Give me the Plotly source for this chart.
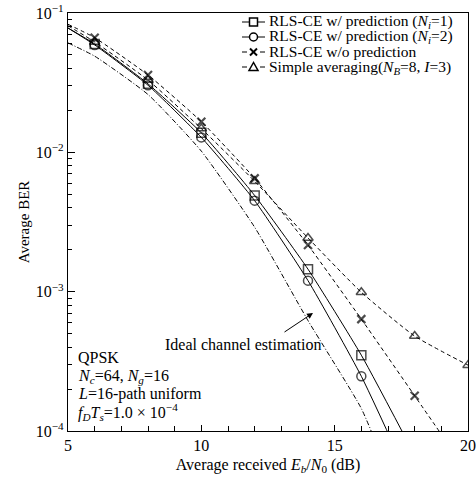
import plotly.graph_objects as go

# ---- data ----
snr = [5, 6, 8, 10, 12, 14, 16, 18, 20]
ber_ni1 = [0.078, 0.060, 0.031, 0.0138, 0.0049, 0.00145, 0.00035, 6.7e-5, None]
ber_ni2 = [0.078, 0.059, 0.0303, 0.0128, 0.0045, 0.0012, 0.000247, 3.7e-5, None]
ber_wo = [0.083, 0.0665, 0.0359, 0.0166, 0.0065, 0.00216, 0.000635, 0.000179, 5.0e-5]
ber_avg = [0.081, 0.062, 0.033, 0.0148, 0.0062, 0.00243, 0.00099, 0.00048, 0.000297]

snr_ideal = [5, 6, 8, 10, 12, 14, 16, 17]
ber_ideal = [0.061, 0.049, 0.026, 0.0102, 0.0029, 0.00062, 0.000145, 5.0e-5]

names = [
    "RLS-CE w/ prediction (<i>N<sub>i</sub></i>=1)",
    "RLS-CE w/ prediction (<i>N<sub>i</sub></i>=2)",
    "RLS-CE w/o prediction",
    "Simple averaging(<i>N<sub>B</sub></i>=8, <i>I</i>=3)",
]
info_lines = [
    "QPSK",
    "<i>N<sub>c</sub></i>=64, <i>N<sub>g</sub></i>=16",
    "<i>L</i>=16-path uniform",
    "<i>f<sub>D</sub>T<sub>s</sub></i>=1.0 × 10<sup>−4</sup>",
]

y_tickvals = [1e-4, 1e-3, 1e-2, 1e-1]
y_ticktext = ["10<sup>−4</sup>", "10<sup>−3</sup>", "10<sup>−2</sup>", "10<sup>−1</sup>"]
x_tickvals = [5, 10, 15, 20]

FONT = "Liberation Serif, Times New Roman, serif"
MS = 9

# figure geometry (pixels)
W, H = 476, 479
ML, MR, MT, MB = 68, 8, 13, 48
PW, PH = W - ML - MR, H - MT - MB


def px(xp):
    return (xp - ML) / PW


def py(yp):
    return (H - MB - yp) / PH


def sizes(n, s=MS):
    return [0] + [s] * (n - 1)


fig = go.Figure()

series = [
    (ber_ni1, "square-open", "solid", names[0], MS, 1.5),
    (ber_ni2, "circle-open", "solid", names[1], MS, 1.5),
    (ber_wo, "x-thin-open", "4px,3px", names[2], 8, 2.2),
    (ber_avg, "triangle-up-open", "4px,3px", names[3], MS, 1.5),
]
for ys, sym, dash, nm, ms, mw in series:
    fig.add_trace(go.Scatter(
        x=snr, y=ys, name=nm, mode="lines+markers", showlegend=False,
        line=dict(color="black", width=1, dash=dash, shape="spline", smoothing=0.5),
        marker=dict(symbol=sym, size=sizes(len(snr), ms), color="black",
                    line=dict(color="black", width=mw)),
        connectgaps=False,
    ))

fig.add_trace(go.Scatter(
    x=snr_ideal, y=ber_ideal, mode="lines", showlegend=False, name="Ideal channel estimation",
    line=dict(color="black", width=1, dash="5px,2px,1px,2px", shape="spline", smoothing=0.5),
))

minor_vals = [k * 10.0 ** e for e in (-4, -3, -2) for k in range(2, 10)]

fig.update_xaxes(
    range=[5, 20], tickvals=x_tickvals, ticks="inside", ticklen=6, tickwidth=1,
    tickcolor="black", showline=True, linecolor="black", linewidth=1.2, mirror=True,
    showgrid=False, zeroline=False, automargin=False,
    minor=dict(tickvals=list(range(5, 21)), ticks="inside", ticklen=5, tickcolor="black", showgrid=False),
    tickfont=dict(family=FONT, size=16, color="black"),
    title=dict(text="Average received <i>E<sub>b</sub></i>/<i>N</i><sub>0</sub> (dB)",
               font=dict(family=FONT, size=16, color="black"), standoff=5),
)
fig.update_yaxes(
    type="log", range=[-4, -1], tickmode="array", tickvals=y_tickvals, ticktext=y_ticktext,
    ticks="inside", ticklen=7, tickwidth=1, tickcolor="black",
    showline=True, linecolor="black", linewidth=1.2, mirror=True,
    showgrid=False, zeroline=False, automargin=False,
    minor=dict(tickvals=minor_vals, ticks="inside", ticklen=4, tickcolor="black", showgrid=False),
    tickfont=dict(family=FONT, size=16, color="black"),
    title=dict(text="Average BER", font=dict(family=FONT, size=15, color="black"), standoff=2),
)

# ---- info block (bottom-left) ----
for txt, yc in zip(info_lines, [357, 376, 394, 412]):
    fig.add_annotation(xref="paper", yref="paper", x=px(76), y=py(yc),
                       xanchor="left", yanchor="middle", showarrow=False, text=txt,
                       font=dict(family=FONT, size=16, color="black"))

# ---- ideal channel estimation label with arrow ----
fig.add_annotation(
    xref="paper", yref="paper", x=px(313), y=py(313), axref="pixel", ayref="pixel",
    ax=-30, ay=20, text="", showarrow=True, arrowhead=2, arrowsize=1.2,
    arrowwidth=1, arrowcolor="black",
)
fig.add_annotation(
    xref="paper", yref="paper", x=px(243), y=py(344), text="Ideal channel estimation",
    showarrow=False, xanchor="center", yanchor="middle",
    font=dict(family=FONT, size=16, color="black"),
)

# ---- legend (key drawn at top right) ----
rows = [22, 37, 52, 67]
kx0, kx1, kxm, ktext = 242, 265, 253.5, 268
shapes = []
for i, (nm, yc) in enumerate(zip(names, rows)):
    fig.add_annotation(xref="paper", yref="paper", x=px(ktext), y=py(yc),
                       xanchor="left", yanchor="middle", showarrow=False, text=nm,
                       borderpad=0, font=dict(family=FONT, size=15.5, color="black"))
    ln = dict(color="black", width=1)
    if i < 2:
        shapes.append(dict(type="line", xref="paper", yref="paper",
                           x0=px(kx0), x1=px(kx1), y0=py(yc), y1=py(yc), line=ln))
    else:
        for a, b in ((kx0, kx0 + 5), (kx1 - 5, kx1)):
            shapes.append(dict(type="line", xref="paper", yref="paper",
                               x0=px(a), x1=px(b), y0=py(yc), y1=py(yc), line=ln))
    mk = dict(color="black", width=1.5)
    r = 4
    if i == 0:
        shapes.append(dict(type="rect", xref="paper", yref="paper", x0=px(kxm - r), x1=px(kxm + r),
                           y0=py(yc - r), y1=py(yc + r), line=mk, fillcolor="white"))
    elif i == 1:
        shapes.append(dict(type="circle", xref="paper", yref="paper", x0=px(kxm - r), x1=px(kxm + r),
                           y0=py(yc - r), y1=py(yc + r), line=mk, fillcolor="white"))
    elif i == 2:
        r2 = 3.5
        for s in (1, -1):
            shapes.append(dict(type="line", xref="paper", yref="paper",
                               x0=px(kxm - r2), x1=px(kxm + r2), y0=py(yc - s * r2), y1=py(yc + s * r2),
                               line=dict(color="black", width=2)))
    else:
        path = "M {:.5f},{:.5f} L {:.5f},{:.5f} L {:.5f},{:.5f} Z".format(
            px(kxm), py(yc - 4.5), px(kxm - 4.5), py(yc + 3.5), px(kxm + 4.5), py(yc + 3.5))
        shapes.append(dict(type="path", xref="paper", yref="paper", path=path, line=mk,
                           fillcolor="white"))

fig.update_layout(
    width=W, height=H,
    margin=dict(l=ML, r=MR, t=MT, b=MB),
    paper_bgcolor="white", plot_bgcolor="white",
    font=dict(family=FONT, size=14, color="black"),
    showlegend=False,
    shapes=shapes,
)

# remove the browser's default 8px body margin so the figure sits at (0, 0)
fig.write_html("out.html", config={"displayModeBar": False},
               post_script="document.body.style.margin='0';")
